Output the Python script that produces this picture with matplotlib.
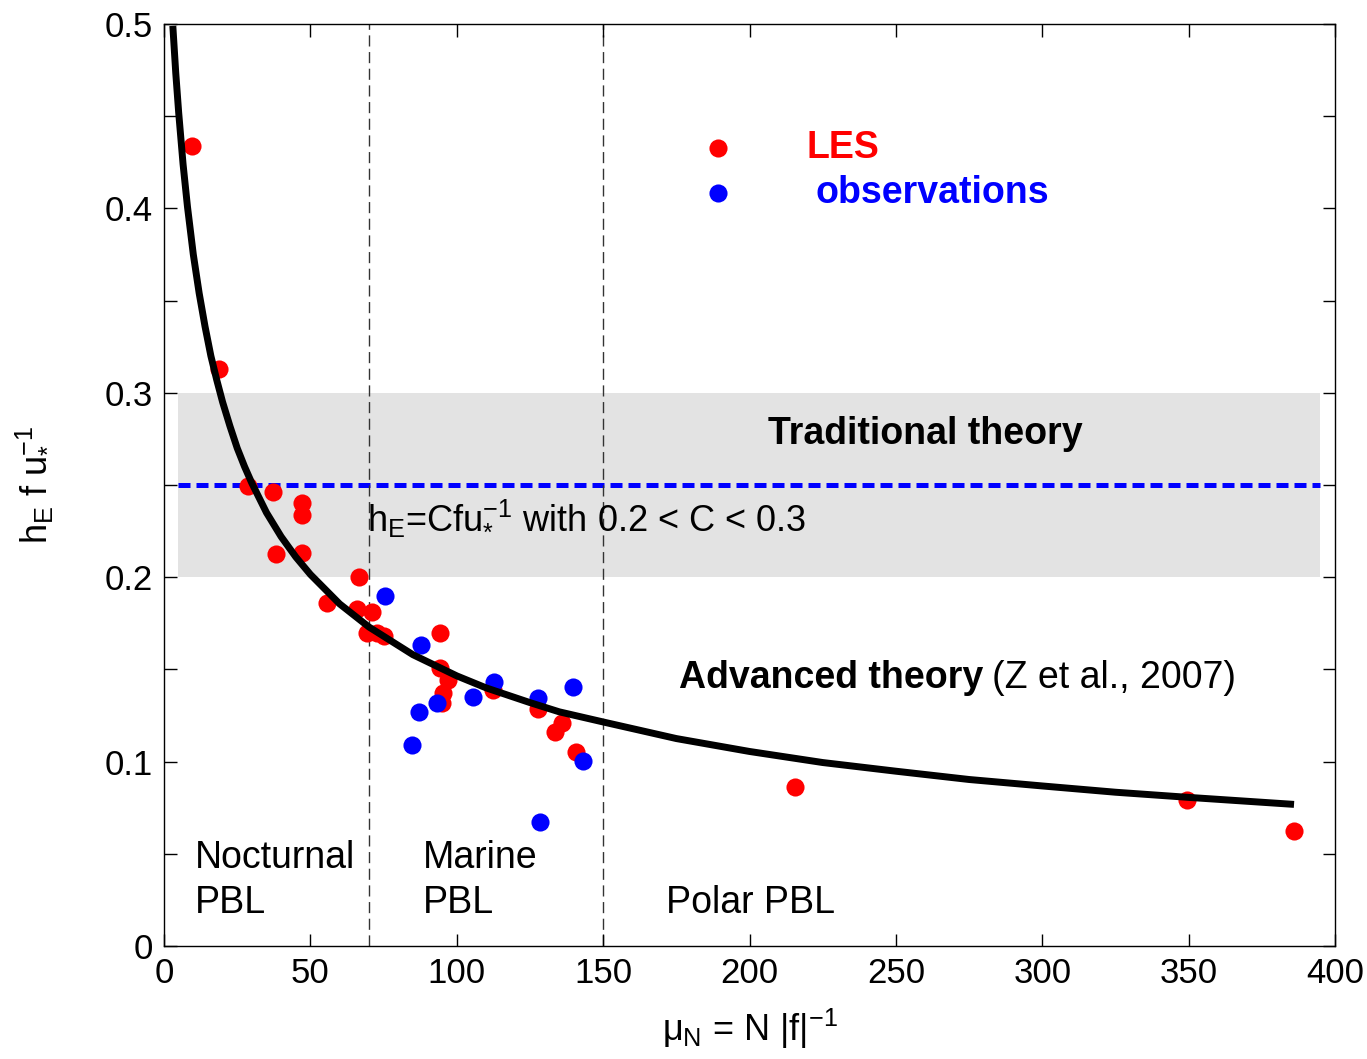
import matplotlib
matplotlib.use("Agg")
import matplotlib.pyplot as plt

plt.rcParams['font.family'] = ['Liberation Sans', 'DejaVu Sans']
plt.rcParams['mathtext.fontset'] = 'custom'
plt.rcParams['mathtext.rm'] = 'Liberation Sans'
plt.rcParams['mathtext.it'] = 'Liberation Sans'
plt.rcParams['mathtext.bf'] = 'Liberation Sans:bold'

# LES points (mu_N, hE f/u*)
les_x = [9.6, 18.8, 28.7, 37.2, 47.1, 47.1, 38.3, 47.1, 66.6, 55.7, 65.9, 71.0,
         72.8, 69.3, 75.0, 94.3, 94.3, 97.0, 95.3, 95.0, 112.4, 127.8, 136.0,
         133.6, 140.7, 215.5, 349.4, 386.0]
les_y = [0.434, 0.313, 0.2495, 0.246, 0.240, 0.234, 0.2126, 0.213, 0.200, 0.186,
         0.183, 0.181, 0.170, 0.170, 0.168, 0.170, 0.151, 0.144, 0.137, 0.132,
         0.139, 0.1285, 0.121, 0.116, 0.105, 0.0862, 0.0792, 0.0624]

# observations
obs_x = [75.5, 87.8, 93.3, 87.1, 84.7, 105.5, 112.7, 127.8, 139.7, 143.1, 128.4]
obs_y = [0.190, 0.163, 0.132, 0.127, 0.109, 0.135, 0.143, 0.1345, 0.1405, 0.1003, 0.0672]

# advanced theory curve
curve_x = [3, 4, 5, 6.5, 8, 10, 12, 14, 16, 18, 20, 22.5, 25, 27.5, 30, 35, 40, 45,
           50, 60, 70, 85, 100, 110, 125, 135, 150, 175, 200, 225, 250, 275, 300,
           325, 350, 386]
curve_y = [0.499, 0.4735, 0.452, 0.424, 0.401, 0.375, 0.354, 0.336, 0.320, 0.307,
           0.295, 0.282, 0.270, 0.260, 0.251, 0.235, 0.222, 0.211, 0.2015, 0.1855,
           0.173, 0.158, 0.1465, 0.1400, 0.132, 0.1270, 0.1215, 0.1125, 0.1055,
           0.0995, 0.0948, 0.0903, 0.0868, 0.0834, 0.0806, 0.0768]

band_lo, band_hi = 0.2, 0.3
trad_c = 0.25
regime_x = [70, 150]

fig = plt.figure(figsize=(13.67, 10.59), dpi=100)
ax = fig.add_axes([0.12, 0.1067, 0.8566, 0.8706])

ax.fill_between([4.8, 395], band_lo, band_hi, color='#e3e3e3', lw=0, zorder=0)
ax.plot([4.8, 395], [trad_c, trad_c], color='#0000ff', lw=3.6, ls=(0, (2.4, 1.2)), zorder=1)
for xv in regime_x:
    ax.axvline(xv, color='#333333', lw=1.0, ls=(0, (8, 4)), zorder=1)

ax.scatter(les_x, les_y, s=170, color='#ff0000', lw=0, zorder=3)
ax.scatter(obs_x, obs_y, s=170, color='#0000ff', lw=0, zorder=4)
ax.plot(curve_x, curve_y, color='black', lw=5, zorder=5, solid_capstyle='butt',
        solid_joinstyle='round')

ax.set_xlim(0, 400)
ax.set_ylim(0, 0.5)
ax.set_xticks([0, 50, 100, 150, 200, 250, 300, 350, 400])
ax.set_yticks([0, 0.1, 0.2, 0.3, 0.4, 0.5])
ax.set_yticklabels(['0', '0.1', '0.2', '0.3', '0.4', '0.5'])
ax.tick_params(direction='in', length=9, width=1, top=True, right=True,
               labelsize=25, pad=8)
ax.yaxis.set_minor_locator(matplotlib.ticker.MultipleLocator(0.05))
ax.tick_params(which='minor', direction='in', length=9, width=1, right=True, left=True)
for sp in ax.spines.values():
    sp.set_linewidth(1.0)

ax.set_xlabel(r'$\mu_{\rm N}$ = N |f|$^{-1}$', fontsize=26, labelpad=12)
ax.set_ylabel(r'h$_{\rm E}$ f u$_{*}^{-1}$', fontsize=26, labelpad=38)

# legend-like labels
ax.scatter([189.4], [0.4328], s=170, color='#ff0000', lw=0)
ax.scatter([189.4], [0.4083], s=170, color='#0000ff', lw=0)
ax.text(219.5, 0.4328, 'LES', color='#ff0000', fontsize=27, fontweight='bold', va='center')
ax.text(222.5, 0.4083, 'observations', color='#0000ff', fontsize=27, fontweight='bold', va='center')

ax.text(260, 0.2775, 'Traditional theory', fontsize=27, fontweight='bold', ha='center', va='center')
ax.text(69.5, 0.2325, r'h$_{\rm E}$=Cfu$_{*}^{-1}$ with 0.2 < C < 0.3', fontsize=26, va='center')
ax.text(176, 0.1455, 'Advanced theory', fontsize=27, fontweight='bold', va='center')
ax.text(282.8, 0.1455, '(Z et al., 2007)', fontsize=27, va='center')

ax.text(10.5, 0.0475, 'Nocturnal', fontsize=27, va='center')
ax.text(10.5, 0.0232, 'PBL', fontsize=27, va='center')
ax.text(88.5, 0.0475, 'Marine', fontsize=27, va='center')
ax.text(88.5, 0.0232, 'PBL', fontsize=27, va='center')
ax.text(171.5, 0.0232, 'Polar PBL', fontsize=27, va='center')

fig.savefig('out.png', dpi=100)
